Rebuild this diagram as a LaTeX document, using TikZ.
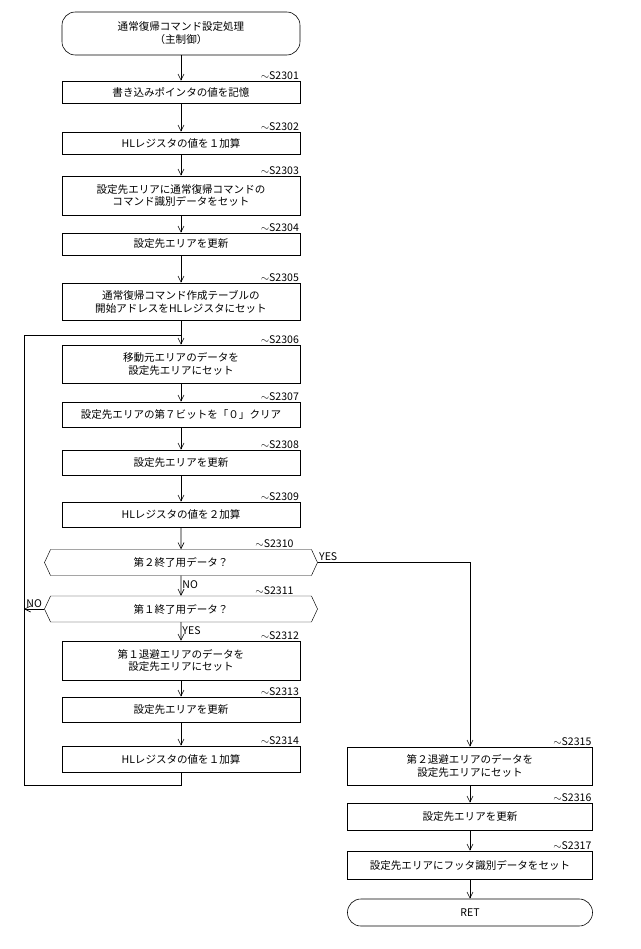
\documentclass[tikz,border=0pt]{standalone}
\usepackage{fontspec}
\setmainfont{Noto Sans CJK JP}
\usetikzlibrary{arrows.meta,shapes.symbols}

\tikzset{
  procbox/.style={draw, minimum width=7.14cm, inner sep=1pt, align=center, font=\small, line width=0.5pt},
  rightbox/.style={procbox, minimum width=7.35cm},
  termbox/.style={procbox, rounded corners=0.4cm},
  decbox/.style={draw, signal, signal to=west and east, signal pointer angle=130, minimum width=8.19cm, minimum height=0.78cm, inner sep=1pt, font=\small},
  steplabel/.style={font=\small, anchor=south east, inner sep=1pt},
  flowline/.style={-{Straight Barb[length=1.8mm,width=1.8mm]}, line width=0.5pt},
}

\begin{document}
\begin{tikzpicture}[x=0.03cm, y=-0.03cm]
  \useasboundingbox (0,0) rectangle (640,949);
  % main column
  \node[termbox, minimum height=1.29cm] (start) at (181,33.5) {通常復帰コマンド設定処理\\（主制御）};
  \node[procbox, minimum height=0.66cm] (s2301) at (181,92) {書き込みポインタの値を記憶};
  \node[procbox, minimum height=0.66cm] (s2302) at (181,143) {HLレジスタの値を１加算};
  \node[procbox, minimum height=1.17cm] (s2303) at (181,195.5) {設定先エリアに通常復帰コマンドの\\コマンド識別データをセット};
  \node[procbox, minimum height=0.66cm] (s2304) at (181,244) {設定先エリアを更新};
  \node[procbox, minimum height=1.11cm] (s2305) at (181,301.5) {通常復帰コマンド作成テーブルの\\開始アドレスをHLレジスタにセット};
  \node[procbox, minimum height=1.14cm] (s2306) at (181,364) {移動元エリアのデータを\\設定先エリアにセット};
  \node[procbox, minimum height=0.75cm] (s2307) at (181,414.5) {設定先エリアの第７ビットを「０」クリア};
  \node[procbox, minimum height=0.75cm] (s2308) at (181,462.5) {設定先エリアを更新};
  \node[procbox, minimum height=0.75cm] (s2309) at (181,514.5) {HLレジスタの値を２加算};
  \node[decbox] (s2310) at (181,562.5) {第２終了用データ？};
  \node[decbox] (s2311) at (181,609) {第１終了用データ？};
  \node[procbox, minimum height=1.17cm] (s2312) at (181,660.5) {第１退避エリアのデータを\\設定先エリアにセット};
  \node[procbox, minimum height=0.75cm] (s2313) at (181,709.5) {設定先エリアを更新};
  \node[procbox, minimum height=0.78cm] (s2314) at (181,759) {HLレジスタの値を１加算};
  % right column
  \node[rightbox, minimum height=1.14cm] (s2315) at (470,766) {第２退避エリアのデータを\\設定先エリアにセット};
  \node[rightbox, minimum height=0.81cm] (s2316) at (470,816.5) {設定先エリアを更新};
  \node[rightbox, minimum height=0.84cm] (s2317) at (470,865) {設定先エリアにフッタ識別データをセット};
  \node[rightbox, rounded corners=0.4cm, minimum height=0.81cm] (ret) at (470,912.5) {RET};
  % step labels
  \foreach \n in {2301,2302,2303,2304,2305,2306,2307,2308,2309,2312,2313,2314,2315,2316,2317}
    \node[steplabel] at (s\n.north east) {$\sim$S\n};
  \node[steplabel] at ([xshift=-0.5cm]s2310.north east) {$\sim$S2310};
  \node[steplabel] at ([xshift=-0.5cm]s2311.north east) {$\sim$S2311};
  % connectors
  \foreach \a/\b in {start/s2301,s2301/s2302,s2302/s2303,s2303/s2304,s2304/s2305,s2305/s2306,s2306/s2307,s2307/s2308,s2308/s2309,s2309/s2310,s2312/s2313,s2313/s2314,s2315/s2316,s2316/s2317,s2317/ret}
    \draw[flowline] (\a) -- (\b);
  \draw[flowline] (s2310) -- node[font=\small, right, inner sep=1pt, pos=0.45] {NO} (s2311);
  \draw[flowline] (s2311) -- node[font=\small, right, inner sep=1pt, pos=0.45] {YES} (s2312);
  \draw[line width=0.5pt] (s2314.south) -- (181,785) -- (24,785) -- (24,335) -- (181,335);
  \draw[flowline] (s2311.west) -- node[font=\small, above, inner sep=1pt] {NO} (24,609);
  \draw[flowline] (s2310.east) -- (470,562.5) -- (s2315.north);
  \node[font=\small, anchor=south west, inner sep=1pt] at (s2310.east) {YES};
\end{tikzpicture}
\end{document}
